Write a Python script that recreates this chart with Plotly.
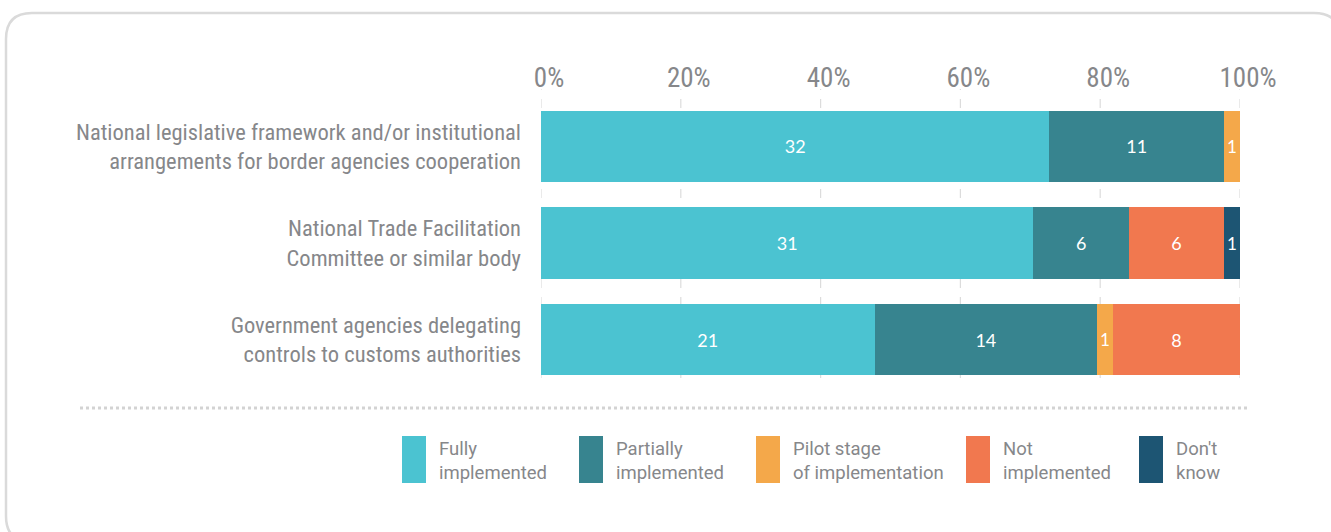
import plotly.graph_objects as go

# ---- data ----
categories = [
    "National legislative framework and/or institutional<br>arrangements for border agencies cooperation",
    "National Trade Facilitation<br>Committee or similar body",
    "Government agencies delegating<br>controls to customs authorities",
]
series_names = ["Fully implemented", "Partially implemented", "Pilot stage of implementation",
                "Not implemented", "Don't know"]
legend_line1 = ["Fully", "Partially", "Pilot stage", "Not", "Don't"]
legend_line2 = ["implemented", "implemented", "of implementation", "implemented", "know"]
fully = [32, 31, 21]
partially = [11, 6, 14]
pilot = [1, 0, 1]
not_impl = [0, 6, 8]
dont_know = [0, 1, 0]
tick_vals = [0, 20, 40, 60, 80, 100]
tick_text = ["0%", "20%", "40%", "60%", "80%", "100%"]

colors = ["#4BC3D1", "#37848F", "#F4A84A", "#F1784F", "#1D5573"]
series = [fully, partially, pilot, not_impl, dont_know]

W, H = 1331, 532
L, R, T, B = 541, 91, 98, 144
PW, PH = W - L - R, H - T - B

def px(x):
    return (x - L) / PW

def py(y):
    return (H - B - y) / PH

totals = [sum(s[i] for s in series) for i in range(len(categories))]

FONT = "Roboto Condensed, Liberation Sans Narrow, DejaVu Sans Condensed, Roboto, sans-serif"
LEGFONT = "Roboto, sans-serif"
GRAY = "#86878A"

fig = go.Figure()
for name, vals, col in zip(series_names, series, colors):
    pct = [v / t * 100 for v, t in zip(vals, totals)]
    fig.add_trace(go.Bar(
        y=categories, x=pct, name=name, orientation="h",
        marker=dict(color=col, line=dict(width=0)),
        text=[str(v) if v else "" for v in vals],
        textposition="inside", insidetextanchor="middle",
        textfont=dict(color="white", size=18, family="Lato, Open Sans, sans-serif"),
        width=0.74, showlegend=False, hoverinfo="skip",
    ))

shapes = []
# dashed vertical gridlines (at the axis tick values)
for v in tick_vals:
    shapes.append(dict(type="line", xref="x", yref="paper", x0=v, x1=v,
                       y0=py(378), y1=py(89), layer="below",
                       line=dict(color="#DCDCDC", width=1.2, dash="dash")))
# rounded border
x0, y0, x1, y1, r = 6, 13, 1340, 542, 26
path = (f"M {px(x0 + r)},{py(y0)} L {px(x1 - r)},{py(y0)} "
        f"Q {px(x1)},{py(y0)} {px(x1)},{py(y0 + r)} L {px(x1)},{py(y1 - r)} "
        f"Q {px(x1)},{py(y1)} {px(x1 - r)},{py(y1)} L {px(x0 + r)},{py(y1)} "
        f"Q {px(x0)},{py(y1)} {px(x0)},{py(y1 - r)} L {px(x0)},{py(y0 + r)} "
        f"Q {px(x0)},{py(y0)} {px(x0 + r)},{py(y0)} Z")
shapes.append(dict(type="path", path=path, xref="paper", yref="paper",
                   line=dict(color="#DADADA", width=2.5), layer="below"))
# dotted separator
shapes.append(dict(type="line", xref="paper", yref="paper",
                   x0=px(80), x1=px(1250), y0=py(408), y1=py(408),
                   line=dict(color="#D3D3D3", width=3, dash="dot")))

annotations = []
box_x = [402, 579, 756, 966, 1139]
for bx, l1, l2, col in zip(box_x, legend_line1, legend_line2, colors):
    shapes.append(dict(type="rect", xref="paper", yref="paper",
                       x0=px(bx), x1=px(bx + 24), y0=py(483), y1=py(436),
                       fillcolor=col, line=dict(width=0)))
    for txt, yy in ((l1, 448.5), (l2, 472.5)):
        annotations.append(dict(xref="paper", yref="paper", x=px(bx + 35), y=py(yy),
                                xanchor="left", yanchor="middle", align="left",
                                text=txt, showarrow=False,
                                font=dict(family=LEGFONT, size=18.5, color=GRAY)))

fig.update_layout(
    barmode="stack",
    width=W, height=H,
    margin=dict(l=L, r=R, t=T, b=B, pad=0),
    paper_bgcolor="white", plot_bgcolor="white",
    shapes=shapes, annotations=annotations,
    bargap=0.26,
    xaxis=dict(range=[0, 100], side="top", tickvals=tick_vals, ticktext=tick_text,
               showgrid=False, zeroline=False, showline=False, ticks="",
               ticklabelshift=8, ticklabelstandoff=5,
               tickfont=dict(family=FONT, size=27, color=GRAY), fixedrange=True),
    yaxis=dict(categoryorder="array", categoryarray=categories[::-1],
               showgrid=False, zeroline=False, showline=False, ticks="",
               ticklabelstandoff=19,
               tickfont=dict(family=FONT, size=22.5, color=GRAY), fixedrange=True),
)

fig.write_html("out.html", config={"displayModeBar": False},
               post_script="document.body.style.margin='0';")
